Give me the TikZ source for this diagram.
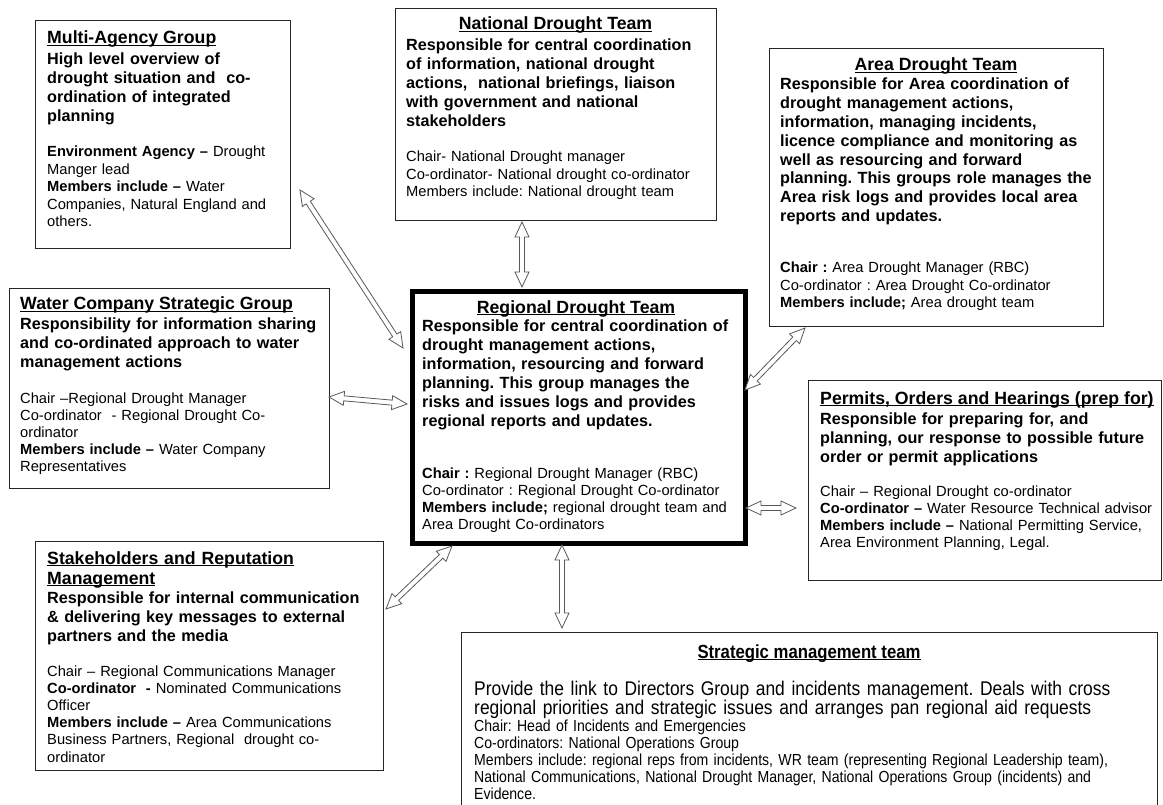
\documentclass[tikz,border=0pt]{standalone}
\usepackage{fontspec}
\setmainfont{Liberation Sans}
\newfontfamily\narrowfont[FakeStretch=0.88]{Liberation Sans}
\usetikzlibrary{calc}
\frenchspacing
\newcommand\titleul[1]{\underline{\smash{#1}}}
\newcommand\dblarrow[2]{%
 \draw[blockarrow] (#1)
  -- ($(#1)!15pt!(#2)!7pt!90:(#2)$) -- ($(#1)!15pt!(#2)!2.5pt!90:(#2)$)
  -- ($(#2)!15pt!(#1)!2.5pt!-90:(#1)$) -- ($(#2)!15pt!(#1)!7pt!-90:(#1)$)
  -- (#2)
  -- ($(#2)!15pt!(#1)!7pt!90:(#1)$) -- ($(#2)!15pt!(#1)!2.5pt!90:(#1)$)
  -- ($(#1)!15pt!(#2)!2.5pt!-90:(#2)$) -- ($(#1)!15pt!(#2)!7pt!-90:(#2)$)
  -- cycle;}
\tikzset{
 box/.style={draw=black!85, line width=1.2pt, fill=white, inner sep=0pt, anchor=north west},
 ttl/.style={font=\fontsize{17.7}{19}\selectfont\bfseries, inner sep=0pt},
 dsc/.style={font=\fontsize{16.2}{19}\selectfont\bfseries, inner sep=0pt, text width=420pt, align=left, anchor=base west},
 inf/.style={font=\fontsize{14.7}{17.5}\selectfont, inner sep=0pt, text width=420pt, align=left, anchor=base west},
 sttl/.style={font=\narrowfont\fontsize{19}{19}\selectfont\bfseries, inner sep=0pt, anchor=base},
 sdsc/.style={font=\narrowfont\fontsize{19.8}{19}\selectfont, inner sep=0pt, text width=700pt, align=left, anchor=base west},
 sinf/.style={font=\narrowfont\fontsize{16}{17}\selectfont, inner sep=0pt, text width=700pt, align=left, anchor=base west},
 blockarrow/.style={draw=black!65, fill=white, line width=0.8pt, line join=miter},
}
\begin{document}
\begin{tikzpicture}[x=1pt, y=-1pt]
\useasboundingbox (0,0) rectangle (1163,805);
\fill[white] (0,0) rectangle (1163,805);

% Multi-Agency Group
\node[box, minimum width=255pt, minimum height=228pt] (mag) at (35,20) {};
\node[ttl, anchor=base west] (magT) at (47,44) {\titleul{Multi-Agency Group}};
\node[dsc] (magD) at (47,65) {High level overview of\\drought situation and \ co-\\ordination of integrated\\planning};
\node[inf] (magI) at (47,157) {\textbf{Environment Agency –} Drought\\Manger lead\\\textbf{Members include –} Water\\Companies, Natural England and\\others.};

% National Drought Team
\node[box, minimum width=321pt, minimum height=212pt] (nat) at (395,8) {};
\node[ttl, anchor=base] (natT) at (555.5,30) {\titleul{National Drought Team}};
\node[dsc] (natD) at (406,51) {Responsible for central coordination\\of information, national drought\\actions, \ national briefings, liaison\\with government and national\\stakeholders};
\node[inf] (natI) at (406,162) {Chair- National Drought manager\\Co-ordinator- National drought co-ordinator\\Members include: National drought team};

% Area Drought Team
\node[box, minimum width=334pt, minimum height=278pt] (area) at (769,48) {};
\node[ttl, anchor=base] (areaT) at (936,71) {\titleul{Area Drought Team}};
\node[dsc, font=\fontsize{16.2}{18.8}\selectfont\bfseries] (areaD) at (780,90) {Responsible for Area coordination of\\drought management actions,\\information, managing incidents,\\licence compliance and monitoring as\\well as resourcing and forward\\planning. This groups role manages the\\Area risk logs and provides local area\\reports and updates.};
\node[inf] (areaI) at (780,273) {\textbf{Chair :} Area Drought Manager (RBC)\\Co-ordinator : Area Drought Co-ordinator\\\textbf{Members include;} Area drought team};

% Water Company Strategic Group
\node[box, minimum width=320pt, minimum height=200pt] (wc) at (9,288) {};
\node[ttl, anchor=base west] (wcT) at (20,310) {\titleul{Water Company Strategic Group}};
\node[dsc] (wcD) at (20,330) {Responsibility for information sharing\\and co-ordinated approach to water\\management actions};
\node[inf, font=\fontsize{14.7}{17}\selectfont] (wcI) at (20,403) {Chair –Regional Drought Manager\\Co-ordinator \ - Regional Drought Co-\\ordinator\\\textbf{Members include –} Water Company\\Representatives};

% Regional Drought Team
\node[box, line width=5pt, draw=black, minimum width=333pt, minimum height=251pt] (rdt) at (409.5,289.5) {};
\node[ttl, anchor=base] (rdtT) at (576,313) {\titleul{Regional Drought Team}};
\node[dsc] (rdtD) at (422,332) {Responsible for central coordination of\\drought management actions,\\information, resourcing and forward\\planning. This group manages the\\risks and issues logs and provides\\regional reports and updates.};
\node[inf, font=\fontsize{14.7}{17}\selectfont] (rdtI) at (422,478) {\textbf{Chair :} Regional Drought Manager (RBC)\\Co-ordinator : Regional Drought Co-ordinator\\\textbf{Members include;} regional drought team and\\Area Drought Co-ordinators};

% Permits, Orders and Hearings
\node[box, minimum width=353pt, minimum height=200pt] (perm) at (808,380) {};
\node[ttl, anchor=base west] (permT) at (820,404) {\titleul{Permits, Orders and Hearings (prep for)}};
\node[dsc] (permD) at (820,424) {Responsible for preparing for, and\\planning, our response to possible future\\order or permit applications};
\node[inf, font=\fontsize{14.7}{17}\selectfont] (permI) at (820,496) {Chair – Regional Drought co-ordinator\\\textbf{Co-ordinator –} Water Resource Technical advisor\\\textbf{Members include –} National Permitting Service,\\Area Environment Planning, Legal.};

% Stakeholders and Reputation Management
\node[box, minimum width=348pt, minimum height=229pt] (stk) at (35,541) {};
\node[ttl, anchor=base west, align=left, text width=330pt, font=\fontsize{17.7}{20}\selectfont\bfseries] (stkT) at (47,564) {\titleul{Stakeholders and Reputation}\\\titleul{Management}};
\node[dsc] (stkD) at (47,603) {Responsible for internal communication\\\& delivering key messages to external\\partners and the media};
\node[inf, font=\fontsize{14.7}{17.2}\selectfont] (stkI) at (47,676) {Chair – Regional Communications Manager\\\textbf{Co-ordinator \ -} Nominated Communications\\Officer\\\textbf{Members include –} Area Communications\\Business Partners, Regional \ drought co-\\ordinator};

% Strategic management team
\node[box, minimum width=696pt, minimum height=180pt] (smt) at (461,632) {};
\node[sttl] (smtT) at (809,658) {\titleul{Strategic management team}};
\node[sdsc] (smtD) at (474,695) {Provide the link to Directors Group and incidents management. Deals with cross\\regional priorities and strategic issues and arranges pan regional aid requests};
\node[sinf] (smtI) at (474,731) {Chair: Head of Incidents and Emergencies\\Co-ordinators: National Operations Group\\Members include: regional reps from incidents, WR team (representing Regional Leadership team),\\National Communications, National Drought Manager, National Operations Group (incidents) and\\Evidence.};

% connector end points
\coordinate (a1s) at (300,190);  \coordinate (a1e) at (403,348);
\coordinate (a2s) at (329,397);  \coordinate (a2e) at (407,404);
\coordinate (a3s) at (522,222);  \coordinate (a3e) at (522,287);
\coordinate (a4s) at (745,390);  \coordinate (a4e) at (805,328);
\coordinate (a5s) at (746,508);  \coordinate (a5e) at (796,508);
\coordinate (a6s) at (386,609);  \coordinate (a6e) at (452,546);
\coordinate (a7s) at (562,545);  \coordinate (a7e) at (562,628);

\dblarrow{a1s}{a1e}
\dblarrow{a2s}{a2e}
\dblarrow{a3s}{a3e}
\dblarrow{a4s}{a4e}
\dblarrow{a5s}{a5e}
\dblarrow{a6s}{a6e}
\dblarrow{a7s}{a7e}
\end{tikzpicture}
\end{document}
